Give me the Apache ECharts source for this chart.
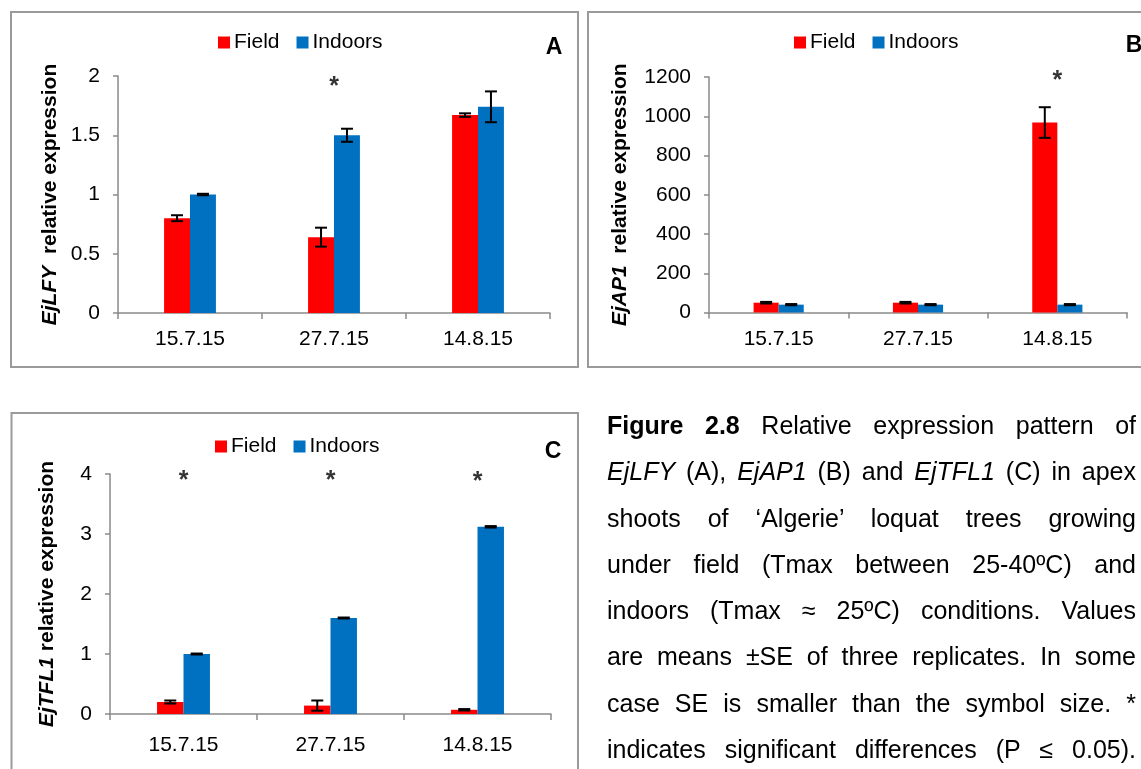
<!DOCTYPE html>
<html>
<head>
<meta charset="utf-8">
<script src="https://cdn.jsdelivr.net/npm/echarts@6/dist/echarts.min.js"></script>
<style>
html,body{margin:0;padding:0;background:#fff;}
#wrap{position:relative;width:1141px;height:769px;overflow:hidden;background:#fff;}
#chart{position:absolute;left:0;top:0;width:1141px;height:769px;}
#caption{position:absolute;left:607px;top:402px;width:529px;font-family:'Liberation Sans',Arial,sans-serif;font-size:25px;line-height:46.3px;color:#000;}
#caption div{text-align:justify;text-align-last:justify;}
</style>
</head>
<body>
<div id="wrap">
<div id="chart"></div>
<div id="caption">
<div><b>Figure 2.8</b> Relative expression pattern of</div>
<div><i>EjLFY</i> (A), <i>EjAP1</i> (B) and <i>EjTFL1</i> (C) in apex</div>
<div>shoots of ‘Algerie’ loquat trees growing</div>
<div>under field (Tmax between 25-40ºC) and</div>
<div>indoors (Tmax ≈ 25ºC) conditions. Values</div>
<div>are means ±SE of three replicates. In some</div>
<div>case SE is smaller than the symbol size. *</div>
<div>indicates significant differences (P ≤ 0.05).</div>
</div>
</div>
<script>
// ---- data ----
const categories = ['15.7.15', '27.7.15', '14.8.15'];
const seriesNames = ['Field', 'Indoors'];

const lfyField = [0.80, 0.64, 1.67];
const lfyFieldSE = [0.025, 0.08, 0.015];
const lfyIndoors = [1.00, 1.50, 1.74];
const lfyIndoorsSE = [0.006, 0.055, 0.13];

const ap1Field = [50, 50, 968];
const ap1FieldSE = [4, 4, 78];
const ap1Indoors = [40, 40, 40];
const ap1IndoorsSE = [3, 3, 3];

const tfl1Field = [0.20, 0.14, 0.07];
const tfl1FieldSE = [0.025, 0.085, 0.012];
const tfl1Indoors = [1.00, 1.60, 3.12];
const tfl1IndoorsSE = [0.008, 0.008, 0.012];

const yAxisA = {max: 2, interval: 0.5};
const yAxisB = {max: 1200, interval: 200};
const yAxisC = {max: 4, interval: 1};

// significance markers (*)
const sigA = [['27.7.15', 1.95]];
const sigB = [['14.8.15', 1205]];
const sigC = [['15.7.15', 3.97], ['27.7.15', 3.97], ['14.8.15', 3.95]];

// ---- chart ----
const FONT = "'Liberation Sans', Arial, sans-serif";
const RED = '#FF0000', BLUE = '#0070C0';
const AXIS_COLOR = '#8a8a8a';
const BAR_FRAC = 0.18;

const chart = echarts.init(document.getElementById('chart'));

function errRender(side) {
  return function (params, api) {
    const idx = api.value(0), v = api.value(1), e = api.value(2);
    const c = api.coord([idx, v]);
    const band = api.size([1, 0])[0];
    const bw = band * BAR_FRAC;
    const x = c[0] + side * bw / 2;
    const yT = api.coord([idx, v + e])[1];
    const yB = api.coord([idx, v - e])[1];
    const cap = 6;
    const style = {stroke: '#000', lineWidth: 2};
    return {type: 'group', children: [
      {type: 'line', shape: {x1: x, y1: yT, x2: x, y2: yB}, style},
      {type: 'line', shape: {x1: x - cap, y1: yT, x2: x + cap, y2: yT}, style},
      {type: 'line', shape: {x1: x - cap, y1: yB, x2: x + cap, y2: yB}, style}
    ]};
  };
}

function xAxisCfg(gi, margin) {
  return {
    type: 'category', gridIndex: gi, data: categories,
    axisLine: {show: true, lineStyle: {color: AXIS_COLOR, width: 1.5}},
    axisTick: {show: true, length: 6, lineStyle: {color: AXIS_COLOR, width: 1.5}},
    axisLabel: {fontSize: 21, color: '#000', margin: margin, fontFamily: FONT},
    splitLine: {show: false}
  };
}
function yAxisCfg(gi, cfg, name, gap) {
  return {
    type: 'value', gridIndex: gi, min: 0, max: cfg.max, interval: cfg.interval,
    axisLine: {show: true, lineStyle: {color: AXIS_COLOR, width: 1.5}},
    axisTick: {show: true, length: 5, lineStyle: {color: AXIS_COLOR, width: 1.5}},
    axisLabel: {fontSize: 21, color: '#000', margin: 18, fontFamily: FONT,
      formatter: function (v) { return String(v); }},
    splitLine: {show: false},
    name: name, nameLocation: 'middle', nameRotate: 90, nameGap: gap,
    nameTextStyle: {
      fontSize: 21, fontWeight: 'bold', color: '#000', fontFamily: FONT,
      rich: {
        i: {fontSize: 21, fontWeight: 'bold', fontStyle: 'italic', color: '#000', fontFamily: FONT},
        b: {fontSize: 21, fontWeight: 'bold', color: '#000', fontFamily: FONT}
      }
    }
  };
}
function barSeries(name, gi, data, color) {
  return {
    type: 'bar', name: name, xAxisIndex: gi, yAxisIndex: gi, data: data,
    barWidth: (BAR_FRAC * 100) + '%', barGap: '0%',
    itemStyle: {color: color}, z: 2
  };
}
function errSeries(gi, vals, se, side) {
  return {
    type: 'custom', xAxisIndex: gi, yAxisIndex: gi,
    renderItem: errRender(side),
    data: categories.map((c, i) => [i, vals[i], se[i]]),
    encode: {x: 0, y: 1}, z: 5, silent: true
  };
}
function sigSeries(gi, data) {
  return {
    type: 'scatter', xAxisIndex: gi, yAxisIndex: gi, data: data,
    symbol: 'circle', symbolSize: 1, itemStyle: {color: 'rgba(0,0,0,0)'},
    clip: false, silent: true, z: 6,
    label: {show: true, position: 'inside', formatter: '*', fontSize: 25, fontWeight: 'bold',
      color: '#000', fontFamily: FONT, offset: [0, 5]}
  };
}
function legendCfg(left, top) {
  return {
    left: left, top: top, padding: 0, data: seriesNames, icon: 'rect',
    itemWidth: 12, itemHeight: 12, itemGap: 17, selectedMode: false,
    textStyle: {fontSize: 21, color: '#000', fontFamily: FONT, padding: [0, 0, 0, -1]}
  };
}

const option = {
  animation: false,
  textStyle: {fontFamily: FONT},
  grid: [
    {left: 118, top: 76, width: 432, height: 237},
    {left: 709, top: 77, width: 418, height: 235.5},
    {left: 110, top: 474, width: 441, height: 240}
  ],
  legend: [legendCfg(218, 32), legendCfg(794, 32), legendCfg(215, 436)],
  xAxis: [xAxisCfg(0, 16), xAxisCfg(1, 16), xAxisCfg(2, 21)],
  yAxis: [
    yAxisCfg(0, yAxisA, '{i|EjLFY}  {b|relative expression}', 57),
    yAxisCfg(1, yAxisB, '{i|EjAP1}  {b|relative expression}', 78),
    yAxisCfg(2, yAxisC, '{i|EjTFL1} {b|relative expression}', 52)
  ],
  graphic: [
    {type: 'rect', shape: {x: 11, y: 12, width: 567, height: 355}, style: {fill: 'none', stroke: '#9a9a9a', lineWidth: 2}, silent: true},
    {type: 'rect', shape: {x: 588, y: 12, width: 600, height: 355}, style: {fill: 'none', stroke: '#9a9a9a', lineWidth: 2}, silent: true},
    {type: 'rect', shape: {x: 11.5, y: 413, width: 566.5, height: 420}, style: {fill: 'none', stroke: '#9a9a9a', lineWidth: 2}, silent: true},
    {type: 'text', x: 554, y: 48, style: {text: 'A', fontSize: 23, fontWeight: 'bold', fill: '#000', fontFamily: FONT, align: 'center', verticalAlign: 'middle'}},
    {type: 'text', x: 1134, y: 46, style: {text: 'B', fontSize: 23, fontWeight: 'bold', fill: '#000', fontFamily: FONT, align: 'center', verticalAlign: 'middle'}},
    {type: 'text', x: 553, y: 452, style: {text: 'C', fontSize: 23, fontWeight: 'bold', fill: '#000', fontFamily: FONT, align: 'center', verticalAlign: 'middle'}}
  ],
  series: [
    barSeries('Field', 0, lfyField, RED),
    barSeries('Indoors', 0, lfyIndoors, BLUE),
    errSeries(0, lfyField, lfyFieldSE, -1),
    errSeries(0, lfyIndoors, lfyIndoorsSE, 1),
    sigSeries(0, sigA),

    barSeries('Field', 1, ap1Field, RED),
    barSeries('Indoors', 1, ap1Indoors, BLUE),
    errSeries(1, ap1Field, ap1FieldSE, -1),
    errSeries(1, ap1Indoors, ap1IndoorsSE, 1),
    sigSeries(1, sigB),

    barSeries('Field', 2, tfl1Field, RED),
    barSeries('Indoors', 2, tfl1Indoors, BLUE),
    errSeries(2, tfl1Field, tfl1FieldSE, -1),
    errSeries(2, tfl1Indoors, tfl1IndoorsSE, 1),
    sigSeries(2, sigC)
  ]
};
chart.setOption(option);
</script>
</body>
</html>
